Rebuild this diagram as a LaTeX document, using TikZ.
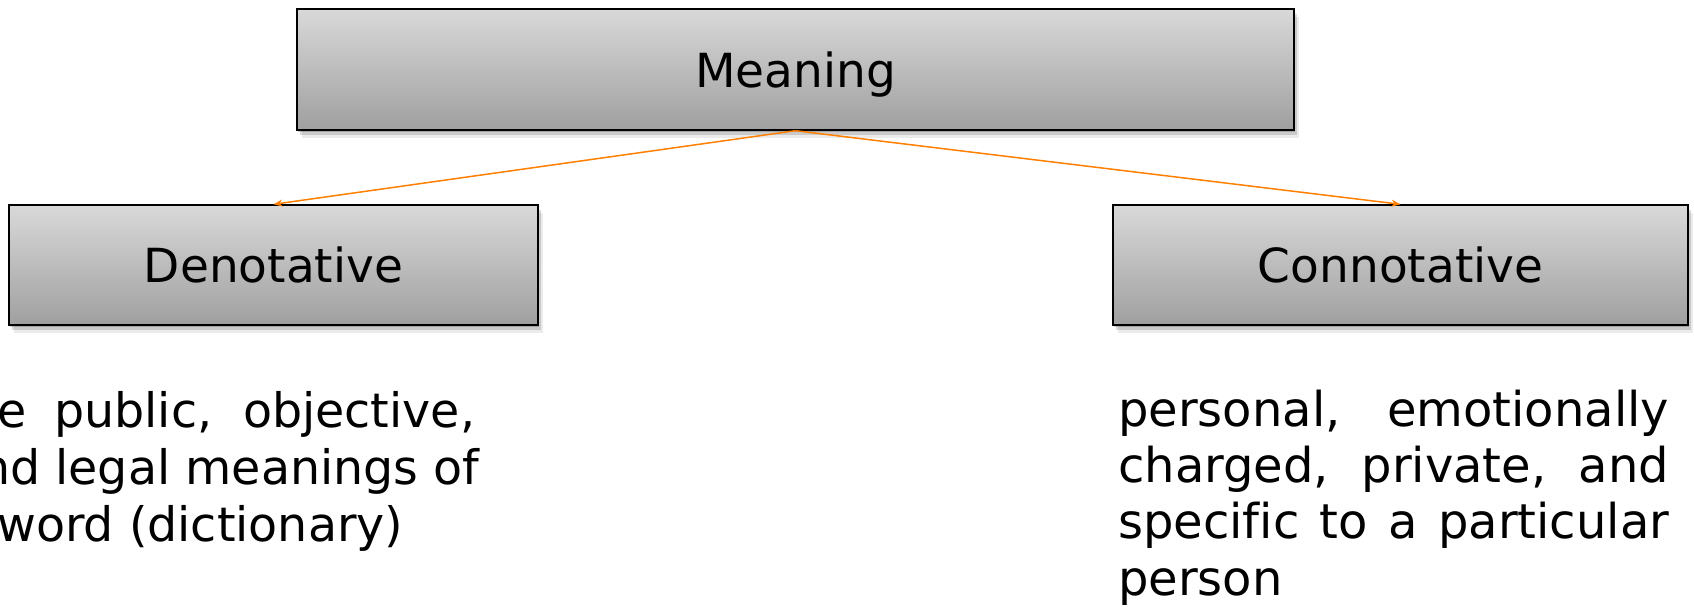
\documentclass[tikz,border=0pt]{standalone}
\usepackage{fontspec}
\setmainfont[Ligatures=NoCommon]{DejaVu Sans}
\usetikzlibrary{arrows.meta,shadows}
\definecolor{arrorange}{RGB}{255,128,0}
\tikzset{
  grbox/.style={draw=black, line width=1.4pt, top color=gray!30, bottom color=gray!75,
    shading angle=0, inner sep=0pt, text depth=0pt,
    drop shadow={shadow xshift=1pt, shadow yshift=-2pt, opacity=0.18, fill=black},
    drop shadow={shadow xshift=3pt, shadow yshift=-5pt, opacity=0.14, fill=black},
    drop shadow={shadow xshift=5pt, shadow yshift=-8pt, opacity=0.08, fill=black},
    font=\fontsize{47}{56}\selectfont},
  bodytext/.style={inner sep=0pt, anchor=base west, font=\fontsize{48}{57}\selectfont},
  lefttext/.style={bodytext, font=\fontsize{47.5}{57}\selectfont},
  conn/.style={draw=arrorange, line width=1.5pt, -{Stealth[length=9pt,width=7pt]}}
}
\begin{document}
\begin{tikzpicture}[x=1pt,y=-1pt]
\useasboundingbox (0,0) rectangle (1694,606);
\node[grbox, minimum width=997pt, minimum height=121pt] (meaning) at (795.5,69.5) {Meaning};
\node[grbox, minimum width=529pt, minimum height=120pt] (deno) at (273.5,265) {Denotative};
\node[grbox, minimum width=575pt, minimum height=120pt] (conno) at (1400.5,265) {Connotative};
\draw[conn] (meaning.south) -- (deno.north);
\draw[conn] (meaning.south) -- (conno.north);
\node[lefttext] (l1) at (-3,427) {\makebox[478pt][s]{e public, objective,}};
\node[lefttext] (l2) at (-20,484) {nd legal meanings of};
\node[lefttext] (l3) at (-3,541) {word (dictionary)};
\node[bodytext] (r1) at (1118,426) {\makebox[551pt][s]{personal, emotionally}};
\node[bodytext] (r2) at (1118,482) {\makebox[551pt][s]{charged, private, and}};
\node[bodytext] (r3) at (1118,538) {\makebox[551pt][s]{specific to a particular}};
\node[bodytext] (r4) at (1118,595) {person};
\end{tikzpicture}
\end{document}
